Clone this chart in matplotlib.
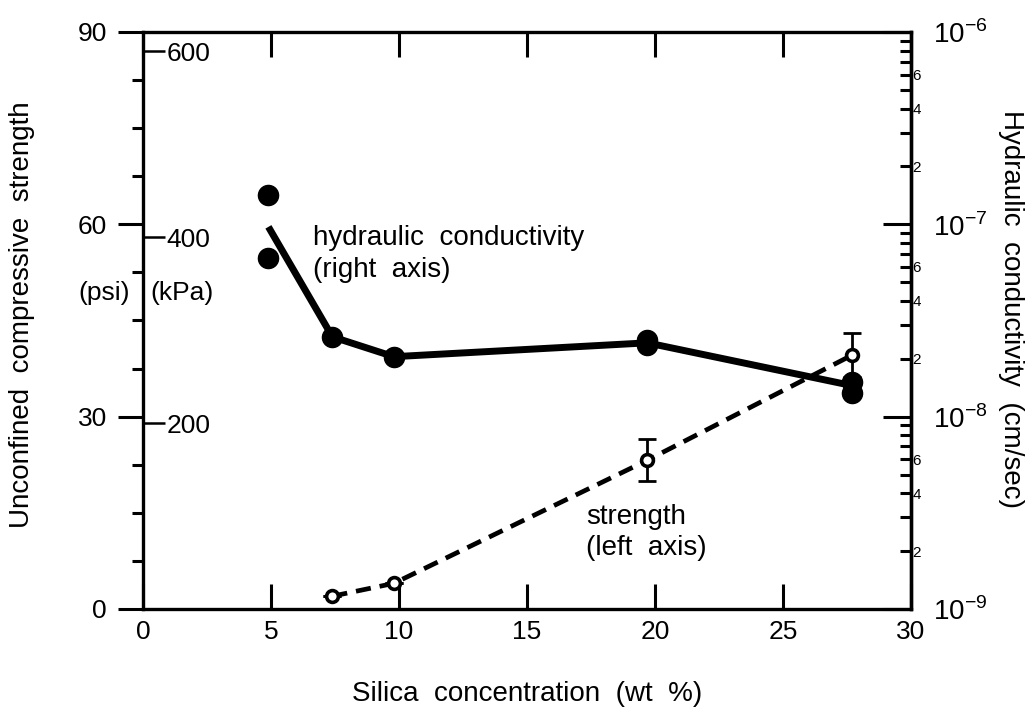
import numpy as np
import matplotlib.pyplot as plt
from matplotlib.ticker import FixedLocator

plt.rcParams['font.family'] = ['Liberation Sans', 'DejaVu Sans']
plt.rcParams['mathtext.fontset'] = 'custom'
plt.rcParams['mathtext.rm'] = 'Liberation Sans'

# hydraulic conductivity (right axis, cm/sec), two samples per concentration
hc_x = [4.9, 4.9, 7.4, 9.8, 19.7, 19.7, 27.7, 27.7]
hc_val = [1.42e-7, 6.65e-8, 2.6e-8, 2.05e-8, 2.5e-8, 2.35e-8, 1.52e-8, 1.32e-8]
hc_line_x = [4.9, 7.4, 9.8, 19.7, 27.7]
hc_line_val = [9.7e-8, 2.6e-8, 2.05e-8, 2.42e-8, 1.45e-8]

# unconfined compressive strength (left axis, psi)
st_x = [7.4, 9.8, 19.7, 27.7]
st_val = [2.0, 4.0, 23.2, 39.6]
st_err = [0.0, 0.0, 3.3, 3.4]

psi_ticks = [0, 30, 60, 90]
kpa_ticks = [200, 400, 600]
x_ticks = [0, 5, 10, 15, 20, 25, 30]
decades = [1e-9, 1e-8, 1e-7, 1e-6]
decade_labels = ['$10^{-9}$', '$10^{-8}$', '$10^{-7}$', '$10^{-6}$']

PSI_PER_KPA = 0.145038

fig = plt.figure(figsize=(10.33, 7.25), dpi=100)
ax = fig.add_axes([0.1384, 0.16, 0.7435, 0.7959])

ax.set_xlim(0, 30)
ax.set_ylim(0, 90)
ax.set_xticks(x_ticks)
ax.set_yticks(psi_ticks)
ax.yaxis.set_minor_locator(FixedLocator(np.arange(0, 90.1, 7.5)))
ax.tick_params(axis='x', direction='in', length=18, width=2.2, top=True,
               labelsize=19, pad=8)
ax.tick_params(axis='y', which='major', direction='out', length=18, width=2.2,
               labelsize=19, pad=8)
ax.tick_params(axis='y', which='minor', direction='out', length=8, width=2.2)
for sp in ax.spines.values():
    sp.set_linewidth(2.4)

# kPa scale drawn on the inside of the left axis
ax3 = ax.secondary_yaxis(0.0, functions=(lambda p: p / PSI_PER_KPA,
                                         lambda k: k * PSI_PER_KPA))
ax3.set_yticks(kpa_ticks)
ax3.tick_params(axis='y', direction='out', left=False, right=True,
                labelleft=False, labelright=True, length=16, width=1.8,
                labelsize=19, pad=1)
ax3.spines['left'].set_visible(False)
ax3.spines['right'].set_visible(False)

# right log axis
ax2 = ax.twinx()
ax2.set_yscale('log')
ax2.set_ylim(1e-9, 1e-6)
ax2.set_yticks(decades)
ax2.set_yticklabels(decade_labels)
minor = [m * d for d in decades[:-1] for m in range(2, 10)]
minor_labels = [str(m) if m in (2, 4, 6) else '' for d in decades[:-1] for m in range(2, 10)]
ax2.set_yticks(minor, minor=True)
ax2.set_yticklabels(minor_labels, minor=True)
ax2.tick_params(axis='y', which='major', direction='in', length=20, width=2.2,
                labelsize=20, pad=16)
ax2.tick_params(axis='y', which='minor', direction='in', length=8, width=2.2,
                labelsize=11, pad=1)
ax2.spines['right'].set_linewidth(2.4)

# data
ax2.plot(hc_line_x, hc_line_val, color='black', lw=5, solid_capstyle='butt', zorder=3)
ax2.plot(hc_x, hc_val, 'o', color='black', ms=14.5, zorder=4)

ax.plot(st_x, st_val, color='black', lw=3.4, dashes=(3.2, 1.9), zorder=3)
ax.errorbar(st_x, st_val, yerr=st_err, fmt='none', ecolor='black',
            elinewidth=2, capsize=6.5, capthick=2, zorder=4)
ax.plot(st_x, st_val, 'o', mfc='white', mec='black', ms=8.5, mew=2.6, zorder=5)
ax.set_zorder(ax2.get_zorder() + 1)
ax.patch.set_visible(False)

# labels
ax.set_xlabel('Silica  concentration  (wt  %)', fontsize=20)
ax.xaxis.set_label_coords(0.5, -0.125)
ax.set_ylabel('Unconfined  compressive  strength', fontsize=20)
ax.yaxis.set_label_coords(-0.14, 0.51)
ax2.set_ylabel('Hydraulic  conductivity  (cm/sec)', fontsize=20, rotation=270,
               va='center')
ax2.yaxis.set_label_coords(1.13, 0.52)

ax.text(-0.5, 49.3, '(psi)', fontsize=19, ha='right', va='center')
ax.text(0.3, 49.3, '(kPa)', fontsize=19, ha='left', va='center')
ax.text(6.64, 57.9, 'hydraulic  conductivity', fontsize=20, va='center')
ax.text(6.64, 52.9, '(right  axis)', fontsize=20, va='center')
ax.text(17.3, 14.4, 'strength', fontsize=20, va='center')
ax.text(17.3, 9.5, '(left  axis)', fontsize=20, va='center')

fig.savefig('out.png', dpi=100)
